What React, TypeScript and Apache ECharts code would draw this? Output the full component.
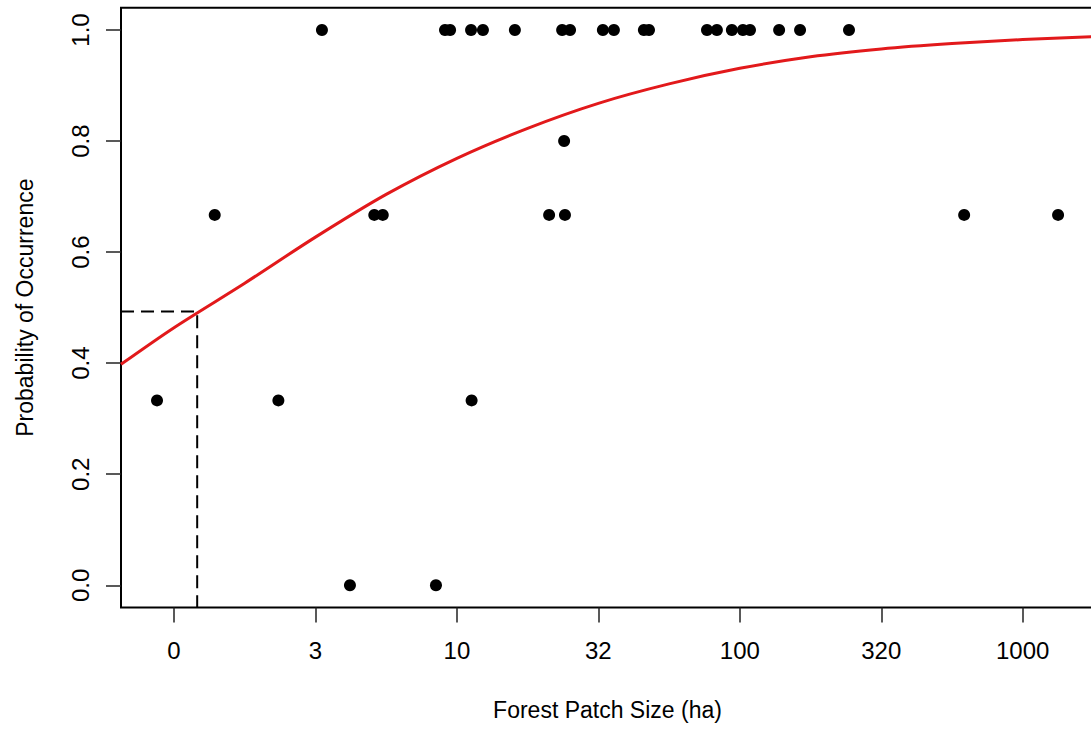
import React, { useEffect, useRef } from "react";
import * as echarts from "echarts";

// Observed sites: patch size on a log10 scale and the proportion of visits with the species present
const logPatchSize = [
  0.523, 0.958, 0.976, 1.05, 1.092, 1.205, 1.372, 1.4, 1.516, 1.555, 1.661, 1.679,
  1.884, 1.919, 1.972, 2.011, 2.036, 2.139, 2.213, 2.386,
  1.379,
  0.144, 0.708, 0.738, 1.326, 1.382, 2.793, 3.125,
  -0.06, 0.369, 1.052,
  0.622, 0.926,
];
const occurrence = [
  1, 1, 1, 1, 1, 1, 1, 1, 1, 1, 1, 1,
  1, 1, 1, 1, 1, 1, 1, 1,
  0.8,
  0.667, 0.667, 0.667, 0.667, 0.667, 0.667, 0.667,
  0.333, 0.333, 0.333,
  0, 0,
];

// Fitted logistic curve, sampled along the log10 size axis
const curveLogSize = [
  -0.1873, 0, 0.25, 0.5, 0.75, 1, 1.25, 1.5, 1.75, 2, 2.25, 2.5, 2.75, 3, 3.252,
];
const curveProb = [
  0.398, 0.464, 0.544, 0.627, 0.704, 0.769, 0.823, 0.868, 0.903, 0.931, 0.952, 0.966,
  0.9756, 0.9828, 0.9881,
];

// Size at which the fitted probability reaches about one half
const halfLogSize = 0.082;
const halfProb = 0.493;

// Axis ticks
const xTickPositions = [0, 0.5, 1, 1.5, 2, 2.5, 3];
const xTickLabels = ["0", "3", "10", "32", "100", "320", "1000"];
const yTickPositions = [0, 0.2, 0.4, 0.6, 0.8, 1.0];

const X_MIN = -0.1873;
const X_MAX = 3.252;
const Y_MIN = -0.04;
const Y_MAX = 1.04;

const FONT = "'Liberation Sans', Arial, Helvetica, sans-serif";

export default function App() {
  const ref = useRef<HTMLDivElement>(null);

  useEffect(() => {
    if (!ref.current) return;
    const chart = echarts.init(ref.current, undefined, { renderer: "svg" });

    const points = logPatchSize.map((x, i) => [x, occurrence[i]]);
    const curve = curveLogSize.map((x, i) => [x, curveProb[i]]);
    const guide = [
      [X_MIN, halfProb],
      [halfLogSize, halfProb],
      [halfLogSize, Y_MIN],
    ];

    chart.setOption({
      animation: false,
      backgroundColor: "#ffffff",
      grid: {
        left: 121,
        top: 7.8,
        width: 973,
        height: 599.7,
        show: true,
        borderColor: "#000",
        borderWidth: 2,
        backgroundColor: "transparent",
      },
      xAxis: {
        type: "value",
        min: X_MIN,
        max: X_MAX,
        name: "Forest Patch Size (ha)",
        nameLocation: "middle",
        nameGap: 91,
        nameTextStyle: { fontFamily: FONT, fontSize: 23, color: "#000" },
        axisLine: { show: false, onZero: false },
        splitLine: { show: false },
        axisTick: {
          show: true,
          length: 15,
          customValues: xTickPositions,
          lineStyle: { color: "#222", width: 1.5 },
        },
        axisLabel: {
          customValues: xTickPositions,
          margin: 31,
          fontFamily: FONT,
          fontSize: 24,
          color: "#000",
          formatter: (v: number) => {
            const i = xTickPositions.findIndex((p) => Math.abs(p - v) < 1e-6);
            return i >= 0 ? xTickLabels[i] : "";
          },
        },
      },
      yAxis: {
        type: "value",
        min: Y_MIN,
        max: Y_MAX,
        name: "Probability of Occurrence",
        nameLocation: "middle",
        nameGap: 85,
        nameTextStyle: { fontFamily: FONT, fontSize: 23, color: "#000" },
        axisLine: { show: false, onZero: false },
        splitLine: { show: false },
        axisTick: {
          show: true,
          length: 15,
          customValues: yTickPositions,
          lineStyle: { color: "#222", width: 1.5 },
        },
        axisLabel: {
          customValues: yTickPositions,
          rotate: 90,
          margin: 29,
          fontFamily: FONT,
          fontSize: 24,
          color: "#000",
          formatter: (v: number) => v.toFixed(1),
        },
      },
      series: [
        {
          type: "line",
          data: guide,
          symbol: "none",
          lineStyle: { color: "#000", width: 2, type: [13, 7] },
          silent: true,
          z: 2,
        },
        {
          type: "line",
          data: curve,
          symbol: "none",
          smooth: 0.3,
          lineStyle: { color: "#e2191b", width: 3 },
          silent: true,
          z: 3,
        },
        {
          type: "scatter",
          data: points,
          symbol: "circle",
          symbolSize: 12,
          itemStyle: { color: "#000", opacity: 1 },
          z: 4,
        },
      ],
    });

    return () => chart.dispose();
  }, []);

  return (
    <div
      style={{
        position: "fixed",
        left: 0,
        top: 0,
        width: 1091,
        height: 730,
        overflow: "hidden",
        background: "#fff",
      }}
    >
      <div ref={ref} style={{ width: 1100, height: 730 }} />
    </div>
  );
}
